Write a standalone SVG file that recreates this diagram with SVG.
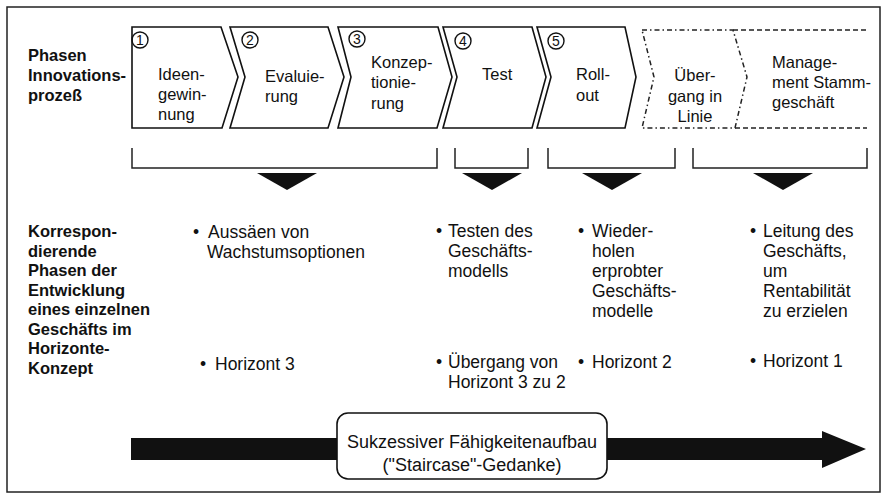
<svg xmlns="http://www.w3.org/2000/svg" width="886" height="500" viewBox="0 0 886 500">
<style>
  text { font-family: "Liberation Sans", Arial, sans-serif; fill: #111; }
  .lbl { font-size: 16.5px; font-weight: bold; }
  .ch { font-size: 16.5px; }
  .tx { font-size: 17.5px; }
  .bx { font-size: 18px; }
  .num { font-size: 14px; text-anchor: middle; }
  .chev { fill: #fff; stroke: #111; stroke-width: 1.6; stroke-linejoin: miter; }
  .dd { fill: none; stroke: #222; stroke-width: 1.5; stroke-dasharray: 5 3 1.5 3; }
  .ds { fill: none; stroke: #222; stroke-width: 1.5; stroke-dasharray: 5 3; }
  .circ { fill: none; stroke: #111; stroke-width: 1.4; }
  .br { fill: none; stroke: #222; stroke-width: 1.5; }
  .tri { fill: #111; }
</style>
<rect x="0" y="0" width="886" height="500" fill="#fff"/>
<rect x="7" y="7" width="873" height="485" fill="none" stroke="#222" stroke-width="1.5"/>

<g id="label-phasen">
  <text class="lbl" x="28" y="61">Phasen</text>
  <text class="lbl" x="28" y="81">Innovations-</text>
  <text class="lbl" x="28" y="101">prozeß</text>
</g>

<g id="phase1">
  <path class="chev" d="M132,27 L221,27 L238,77 L222,128 L132,128 Z"/>
  <circle class="circ" cx="140" cy="40" r="8"/>
  <text class="num" x="140" y="45">1</text>
  <text class="ch" x="158" y="80">Ideen-</text>
  <text class="ch" x="158" y="100">gewin-</text>
  <text class="ch" x="158" y="120">nung</text>
</g>
<g id="phase2">
  <path class="chev" d="M230,27 L328,27 L344,77 L328,128 L230,128 L245,77 Z"/>
  <circle class="circ" cx="250" cy="40" r="8"/>
  <text class="num" x="250" y="45">2</text>
  <text class="ch" x="265" y="82">Evaluie-</text>
  <text class="ch" x="265" y="102">rung</text>
</g>
<g id="phase3">
  <path class="chev" d="M338,27 L438,27 L452,77 L437,128 L338,128 L351,77 Z"/>
  <circle class="circ" cx="357" cy="39" r="8"/>
  <text class="num" x="357" y="44">3</text>
  <text class="ch" x="371" y="68">Konzep-</text>
  <text class="ch" x="371" y="88">tionie-</text>
  <text class="ch" x="371" y="109">rung</text>
</g>
<g id="phase4">
  <path class="chev" d="M443,27 L532,27 L546,77 L532,128 L443,128 L457,77 Z"/>
  <circle class="circ" cx="463" cy="41" r="8"/>
  <text class="num" x="463" y="46">4</text>
  <text class="ch" x="482" y="80">Test</text>
</g>
<g id="phase5">
  <path class="chev" d="M537,27 L625,27 L636,77 L625,128 L537,128 L551,77 Z"/>
  <circle class="circ" cx="556" cy="41" r="8"/>
  <text class="num" x="556" y="46">5</text>
  <text class="ch" x="576" y="80">Roll-</text>
  <text class="ch" x="576" y="101">out</text>
</g>
<g id="uebergang">
  <path class="dd" d="M642,30 L733,30 L747,77 L735,128 L642,128 L654,77 Z"/>
  <text class="ch" x="695" y="81" text-anchor="middle">Über-</text>
  <text class="ch" x="695" y="102" text-anchor="middle">gang in</text>
  <text class="ch" x="695" y="122" text-anchor="middle">Linie</text>
</g>
<g id="management">
  <path class="ds" d="M733,30 L867,30 M735,128 L867,128"/>
  <text class="ch" x="772" y="68">Manage-</text>
  <text class="ch" x="772" y="88">ment Stamm-</text>
  <text class="ch" x="772" y="108">geschäft</text>
</g>

<g id="connectors">
  <path class="br" d="M132,148 L132,168 L437,168 L437,148"/>
  <path class="tri" d="M257,173 L317,173 L287,190 Z"/>
  <path class="br" d="M455,148 L455,168 L528,168 L528,148"/>
  <path class="tri" d="M462,173 L522,173 L492,190 Z"/>
  <path class="br" d="M548,148 L548,168 L675,168 L675,148"/>
  <path class="tri" d="M582,173 L642,173 L612,190 Z"/>
  <path class="br" d="M693,148 L693,168 L867,168 L867,148"/>
  <path class="tri" d="M753,173 L813,173 L783,190 Z"/>
  <path class="tri" d="M131,438 L822,438 L822,431 L866,449 L822,468 L822,460 L131,460 Z"/>
</g>

<g id="label-korrespond">
  <text class="lbl" x="28" y="237">Korrespon-</text>
  <text class="lbl" x="28" y="256.5">dierende</text>
  <text class="lbl" x="28" y="276">Phasen der</text>
  <text class="lbl" x="28" y="295.5">Entwicklung</text>
  <text class="lbl" x="28" y="315">eines einzelnen</text>
  <text class="lbl" x="28" y="334.5">Geschäfts im</text>
  <text class="lbl" x="28" y="354">Horizonte-</text>
  <text class="lbl" x="28" y="373.5">Konzept</text>
</g>

<g id="col1">
  <text class="tx" x="193" y="238">•</text>
  <text class="tx" x="208" y="238">Aussäen von</text>
  <text class="tx" x="207" y="258">Wachstumsoptionen</text>
  <text class="tx" x="200" y="370">•</text>
  <text class="tx" x="215" y="370">Horizont 3</text>
</g>
<g id="col2">
  <text class="tx" x="436" y="237">•</text>
  <text class="tx" x="448" y="237">Testen des</text>
  <text class="tx" x="448" y="257">Geschäfts-</text>
  <text class="tx" x="448" y="277">modells</text>
  <text class="tx" x="436" y="368">•</text>
  <text class="tx" x="448" y="368">Übergang von</text>
  <text class="tx" x="448" y="388">Horizont 3 zu 2</text>
</g>
<g id="col3">
  <text class="tx" x="578" y="237">•</text>
  <text class="tx" x="592" y="237">Wieder-</text>
  <text class="tx" x="592" y="257">holen</text>
  <text class="tx" x="592" y="277">erprobter</text>
  <text class="tx" x="592" y="297">Geschäfts-</text>
  <text class="tx" x="592" y="317">modelle</text>
  <text class="tx" x="578" y="368">•</text>
  <text class="tx" x="592" y="368">Horizont 2</text>
</g>
<g id="col4">
  <text class="tx" x="750" y="237">•</text>
  <text class="tx" x="763" y="237">Leitung des</text>
  <text class="tx" x="763" y="257">Geschäfts,</text>
  <text class="tx" x="763" y="277">um</text>
  <text class="tx" x="763" y="297">Rentabilität</text>
  <text class="tx" x="763" y="317">zu erzielen</text>
  <text class="tx" x="750" y="367">•</text>
  <text class="tx" x="763" y="367">Horizont 1</text>
</g>

<g id="staircase">
  <rect x="337" y="413" width="270" height="66" rx="11" ry="11" fill="#fff" stroke="#111" stroke-width="1.6"/>
  <text class="bx" x="472" y="448" text-anchor="middle">Sukzessiver Fähigkeitenaufbau</text>
  <text class="bx" x="472" y="471" text-anchor="middle">("Staircase"-Gedanke)</text>
</g>
</svg>
